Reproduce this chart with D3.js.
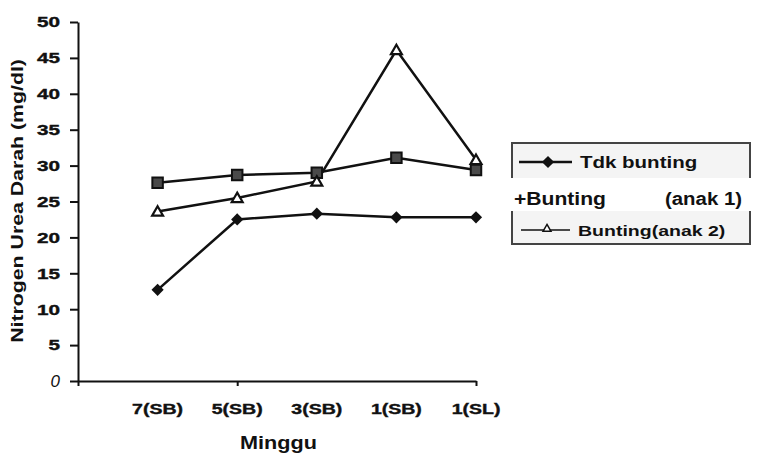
<!DOCTYPE html>
<html>
<head>
<meta charset="utf-8">
<script src="https://cdn.jsdelivr.net/npm/d3@7"></script>
<style>
  body { margin: 0; background: #fff; }
  text { font-family: "Liberation Sans", Arial, sans-serif; fill: #111; }
  .AxisStyle text { font-size: 15px; font-weight: bold; fill: #111; stroke: #111; stroke-width: 0.4; }
  .AxisStyle path, .AxisStyle line { stroke: #111; stroke-width: 2; }
</style>
</head>
<body>
<div id="chart"></div>
<script>
// ------ Data ---------------//
var categories = ["7(SB)", "5(SB)", "3(SB)", "1(SB)", "1(SL)"];
var tdkBunting = [12.7, 22.5, 23.3, 22.8, 22.8];
var buntingAnak1 = [27.6, 28.7, 29.0, 31.1, 29.4];
var buntingAnak2 = [23.6, 25.5, 27.8, 46.1, 30.8];
var yTicks = [0, 5, 10, 15, 20, 25, 30, 35, 40, 45, 50];
var seriesNames = ["Tdk bunting", "+Bunting", "Bunting(anak 2)"];

var width = 757, height = 470;

// the scanned lettering is wider than the plain font, so stretch it a bit
function stretch(sel, factor) {
  sel.each(function() {
    var w = this.getComputedTextLength();
    d3.select(this)
      .attr("textLength", w * factor)
      .attr("lengthAdjust", "spacingAndGlyphs");
  });
}

// ------ Adding the SVG ---------------//
var svg = d3.select("#chart").append("svg")
  .attr("width", width)
  .attr("height", height);

// ------ Scales ---------------//
// the x axis starts one category step before the first point
var x = d3.scalePoint()
  .domain(["start"].concat(categories))
  .range([78, 476]);

var y = d3.scaleLinear()
  .domain([0, 50])
  .range([381, 22]);

// ------ Axes ---------------//
var yAxis = svg.append("g").attr("class", "AxisStyle")
  .attr("transform", "translate(78,0)")
  .call(d3.axisLeft(y).tickValues(yTicks).tickSize(8).tickSizeOuter(0).tickPadding(10));

yAxis.selectAll(".tick text")
  .filter(d => d !== 0)
  .call(stretch, 1.38);

yAxis.selectAll(".tick text")
  .filter(d => d === 0)
  .style("font-style", "italic")
  .style("font-weight", "normal")
  .style("stroke-width", 0)
  .style("font-size", "17px");

var xAxis = svg.append("g").attr("class", "AxisStyle")
  .attr("transform", "translate(0,381)")
  .call(d3.axisBottom(x).tickValues(["start", "5(SB)", "1(SL)"]).tickFormat("").tickSize(5).tickSizeOuter(0));

xAxis.selectAll(".tick line").attr("stroke-width", 3);

// category labels
svg.append("g").attr("class", "AxisStyle")
  .selectAll("text")
  .data(categories)
  .join("text")
  .attr("x", d => x(d))
  .attr("y", 414)
  .attr("text-anchor", "middle")
  .text(d => d)
  .call(stretch, 1.3);

// ------ Axis titles ---------------//
svg.append("text")
  .attr("transform", "translate(23,201) rotate(-90)")
  .attr("text-anchor", "middle")
  .style("font-size", "16px")
  .style("font-weight", "bold")
  .text("Nitrogen Urea Darah (mg/dl)")
  .call(stretch, 1.33);

svg.append("text")
  .attr("x", 240)
  .attr("y", 449)
  .attr("textLength", 77).attr("lengthAdjust", "spacingAndGlyphs")
  .style("font-size", "18px")
  .style("font-weight", "bold")
  .text("Minggu");

// ------ Lines ---------------//
var line = d3.line()
  .x((d, i) => x(categories[i]))
  .y(d => y(d));

var allSeries = [tdkBunting, buntingAnak1, buntingAnak2];

svg.append("g").selectAll("path")
  .data(allSeries)
  .join("path")
  .attr("d", line)
  .attr("fill", "none")
  .attr("stroke", "#111")
  .attr("stroke-width", 2.5);

// ------ Markers ---------------//
var diamond = d3.symbol().type(d3.symbolDiamond2).size(95);
var square = d3.symbol().type(d3.symbolSquare).size(110);
var triangle = d3.symbol().type(d3.symbolTriangle2).size(85);

svg.append("g").selectAll("path")
  .data(tdkBunting)
  .join("path")
  .attr("transform", (d, i) => `translate(${x(categories[i])},${y(d)})`)
  .attr("d", diamond)
  .attr("fill", "#111");

svg.append("g").selectAll("path")
  .data(buntingAnak1)
  .join("path")
  .attr("transform", (d, i) => `translate(${x(categories[i])},${y(d)})`)
  .attr("d", square)
  .attr("fill", "#4a4a4a")
  .attr("stroke", "#111")
  .attr("stroke-width", 2);

svg.append("g").selectAll("path")
  .data(buntingAnak2)
  .join("path")
  .attr("transform", (d, i) => `translate(${x(categories[i])},${y(d) + 1})`)
  .attr("d", triangle)
  .attr("fill", "#fff")
  .attr("stroke", "#111")
  .attr("stroke-width", 2.2);

// ------ Legend ---------------//
var legend = svg.append("g");

legend.append("rect")
  .attr("x", 512).attr("y", 143)
  .attr("width", 238).attr("height", 101)
  .attr("fill", "#f4f4f4")
  .attr("stroke", "#444")
  .attr("stroke-width", 2);

// middle row sits on a white band over the border
legend.append("rect")
  .attr("x", 509).attr("y", 178)
  .attr("width", 244).attr("height", 33)
  .attr("fill", "#fff");

legend.append("line")
  .attr("x1", 519).attr("x2", 572).attr("y1", 162).attr("y2", 162)
  .attr("stroke", "#111").attr("stroke-width", 2.5);
legend.append("path")
  .attr("transform", "translate(548,162)")
  .attr("d", diamond)
  .attr("fill", "#111");
legend.append("text")
  .attr("x", 580).attr("y", 168)
  .style("font-size", "16px").style("font-weight", "bold")
  .text(seriesNames[0])
  .call(stretch, 1.28);

legend.append("text")
  .attr("x", 514).attr("y", 205)
  .attr("textLength", 92).attr("lengthAdjust", "spacingAndGlyphs")
  .style("font-size", "18px").style("font-weight", "bold")
  .text(seriesNames[1]);
legend.append("text")
  .attr("x", 665).attr("y", 205)
  .attr("textLength", 77).attr("lengthAdjust", "spacingAndGlyphs")
  .style("font-size", "18px").style("font-weight", "bold")
  .text("(anak 1)");

legend.append("line")
  .attr("x1", 521).attr("x2", 570).attr("y1", 230).attr("y2", 230)
  .attr("stroke", "#111").attr("stroke-width", 1.5);
legend.append("path")
  .attr("transform", "translate(547,229)")
  .attr("d", d3.symbol().type(d3.symbolTriangle2).size(45))
  .attr("fill", "#fff")
  .attr("stroke", "#111")
  .attr("stroke-width", 1.5);
legend.append("text")
  .attr("x", 578).attr("y", 236)
  .style("font-size", "15px").style("font-weight", "bold")
  .text(seriesNames[2])
  .call(stretch, 1.3);
</script>
</body>
</html>
